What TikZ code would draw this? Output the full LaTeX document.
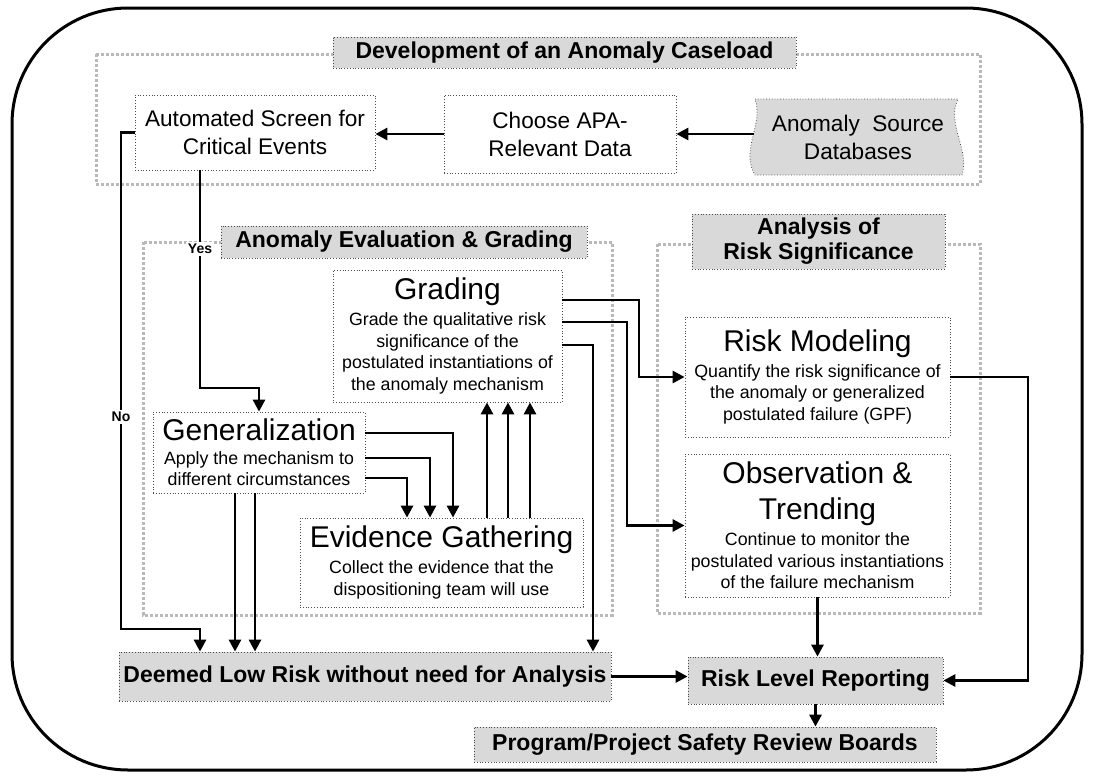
\documentclass[tikz,border=0pt]{standalone}
\usepackage{fontspec}
\setmainfont{Liberation Sans}
\usetikzlibrary{arrows.meta}
\tikzset{
  group/.style={draw=gray!55, line width=1.5pt, densely dotted},
  stepbox/.style={draw=gray!60!black, densely dotted, fill=white, align=center,
    inner sep=0pt, font=\fontsize{11.3}{14}\selectfont},
  infobox/.style={stepbox, font=\fontsize{8.9}{10.8}\selectfont},
  banner/.style={draw=gray!60!black, densely dotted, fill=gray!30, align=center,
    inner sep=0pt, font=\bfseries\fontsize{11.5}{12.5}\selectfont},
  flow/.style={line width=1.4pt, -{Triangle[length=6pt,width=6pt]}},
  answer/.style={fill=white, inner sep=1pt, font=\bfseries\fontsize{7}{8}\selectfont}
}
\newcommand{\boxtitle}[1]{{\fontsize{15}{17}\selectfont #1}}
\begin{document}
\begin{tikzpicture}[x=0.5pt,y=-0.5pt]
  \useasboundingbox (0,0) rectangle (1094,776);
  \draw[line width=1.5pt, rounded corners=58pt] (12,8) rectangle (1082,770);

  % groups
  \draw[group] (96,54) rectangle (980,184);
  \draw[group] (143,242) rectangle (612,615);
  \draw[group] (657,244) rectangle (980,613);
  \node[banner, minimum width=231.5pt, minimum height=15.5pt] (devtitle) at (564.5,52.5)
    {Development of an Anomaly Caseload};
  \node[banner, minimum width=183pt, minimum height=16pt] (evaltitle) at (404,242)
    {Anomaly Evaluation \& Grading};
  \node[banner, minimum width=126.5pt, minimum height=27.5pt] (risktitle) at (818.5,241.5)
    {Analysis of\\Risk Significance};

  % caseload
  \node[stepbox, minimum width=120pt, minimum height=37.5pt] (auto) at (255,132.5)
    {Automated Screen for\\Critical Events};
  \node[stepbox, minimum width=116pt, minimum height=39pt] (choose) at (560,134)
    {Choose APA-\\Relevant Data};
  \draw[draw=gray!60!black, densely dotted, fill=gray!30]
    (755,99) -- (958,99) .. controls (946,124) and (970,150) .. (962,175)
    -- (755,175) .. controls (740,150) and (764,124) .. (755,99) -- cycle;
  \node[stepbox, draw=none, fill=none, minimum width=104pt, minimum height=38pt] (db) at (858,137)
    {Anomaly\ \ Source\\Databases};

  % evaluation
  \node[infobox, minimum width=114.5pt, minimum height=66pt] (grad) at (447.5,336)
    {\boxtitle{Grading}\\[2pt]Grade the qualitative risk\\significance of the\\postulated instantiations of\\the anomaly mechanism};
  \node[infobox, minimum width=106pt, minimum height=40.5pt] (gen) at (259,452.5)
    {\boxtitle{Generalization}\\[1pt]Apply the mechanism to\\different circumstances};
  \node[infobox, minimum width=141.5pt, minimum height=44.5pt] (evid) at (441.5,562.5)
    {\boxtitle{Evidence Gathering}\\[2pt]Collect the evidence that the\\dispositioning team will use};

  % analysis
  \node[infobox, minimum width=132.5pt, minimum height=60pt] (rm) at (817.5,377)
    {\boxtitle{Risk Modeling}\\[2pt]Quantify the risk significance of\\the anomaly or generalized\\postulated failure (GPF)};
  \node[infobox, minimum width=132.5pt, minimum height=71.5pt] (obs) at (817.5,525.5)
    {\boxtitle{Observation \&}\\[6pt]\boxtitle{Trending}\\[2pt]Continue to monitor the\\postulated various instantiations\\of the failure mechanism};

  % outcomes
  \node[banner, minimum width=246pt, minimum height=24.5pt] (deemed) at (365,676.5)
    {Deemed Low Risk without need for Analysis};
  \node[banner, minimum width=127.5pt, minimum height=23.5pt] (rl) at (815.5,680.5)
    {Risk Level Reporting};
  \node[banner, minimum width=231pt, minimum height=17.5pt] (prog) at (705,744.5)
    {Program/Project Safety Review Boards};

  \coordinate (yesturn) at (200,388);
  \coordinate (noturn) at (121,629);
  \coordinate (rmturn) at (1028,377);
  \begin{scope}[flow]
    \draw (db.west |- choose.east) -- (choose.east);
    \draw (choose.west) -- (choose.west -| auto.east);
    \draw (auto.south -| yesturn) -- (yesturn) -| (gen.north);
    \draw (auto.west) -| (noturn) -| (deemed.north -| 200,0);
    \foreach \y/\x in {433/453, 458/430, 478/407}
      \draw (gen.east |- 0,\y) -| (evid.north -| \x,0);
    \foreach \x in {487,508,530}
      \draw (evid.north -| \x,0) -- (grad.south -| \x,0);
    \foreach \x in {235,255}
      \draw (gen.south -| \x,0) -- (deemed.north -| \x,0);
    \draw (grad.east |- 0,300) -| (rm.west -| 639,0) -- (rm.west);
    \draw (grad.east |- 0,322) -| (obs.west -| 627,0) -- (obs.west);
    \draw (grad.east |- 0,345) -| (deemed.north -| 593,0);
    \draw (rm.east) -- (rmturn) |- (rl.east);
    \draw (obs.south) -- (obs.south |- rl.north);
    \draw (deemed.east) -- (deemed.east -| rl.west);
    \draw (rl.south) -- (rl.south |- prog.north);
  \end{scope}
  \node[answer] (yes) at (200,249) {Yes};
  \node[answer] (no) at (121,417) {No};
\end{tikzpicture}
\end{document}
